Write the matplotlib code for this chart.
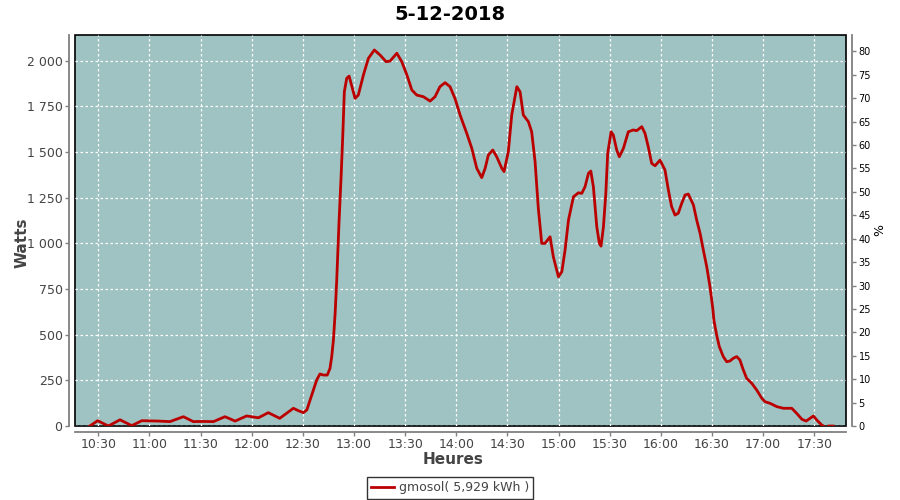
import numpy as np
import matplotlib
matplotlib.use("Agg")
import matplotlib.pyplot as plt
from matplotlib.ticker import FuncFormatter

# production gmosol du 5-12-2018
# temps en minutes apres 10:30, puissance en watts (NaN = trou dans les donnees)
minutes = [-5, -0.4, 5.9, 12.7, 19.6, 25.5, 35.2, 42, 49.9, 55.7, 61, 67.5, 74.3,
           80.2, 87, 93.9, 99.7, 106.4, 114.4, 117.3, 120.3, 122.3, 124.2, 126.1,
           128.1, 130, 132, 134.3, 135.9, 136.9, 137.9, 138.9, 139.8, 141.2, 142.4,
           143.4, 144.3, 145.7, 147.1, 150.6, 152.5, 155.5, 158.4, 161.9, 165.3,
           168.8, 171.1, 175.1, 178, 181, 183.9, 186.8, 190.7, 194.6, 197.5, 200.4,
           203.4, 206.3, 209.2, 212.2, 216.1, 219.1, 222, 224.9, 226.9, 228.8,
           231.4, 233.7, 236.7, 238, 240.5, 242.5, 245.5, 247.4, 249.3, 252.3,
           254.2, 256.2, 258.1, 260.1, 262, 265, 266.9, 269.9, 271.9, 273.8, 275.8,
           278.7, 281.6, 283.6, 285.5, 287.5, 288.9, 290.4, 292.4, 293.9, 294.9,
           296.3, 297.7, 298.8, 300.8, 302.1, 304.1, 305.6, 308, 310.9, 313.8,
           315.8, 318.8, 320.7, 322.6, 324.6, 326.6, 329.5, 332.4, 334.4, 336.3,
           338.3, 340.2, 342.2, 344.2, 346.1, 349.1, 351, 353, 354.9, 356.9, 358.8,
           360.5, 361.1, 362.7, 364.3, 366.6, 368.6, 370.5, 372.5, 374.5, 376.4,
           378, 380.3, 383.3, 386.2, 389.2, 391.1, 394.1, 398, 401.9, 406.8, 409.7,
           412.7, 415.2, 417.5, 419.5, 421.4, 424.4, 425.4, 427, 428.5, 431]
watts = [0, 29, 0, 34, 2, 29, 27, 24, 51, 24, 25, 24, 51,
         27, 55, 45, 73, 42, 97, 84, 73, 88, 142, 197,
         252, 285, 279, 279, 316, 380, 471, 617, 790, 1119, 1365,
         1593, 1830, 1904, 1916, 1794, 1812, 1922, 2013, 2059, 2031,
         1995, 1998, 2041, 1995, 1922, 1840, 1812, 1803, 1779, 1803, 1858,
         1880, 1858, 1794, 1703, 1603, 1520, 1411, 1360, 1411, 1484,
         1511, 1474, 1411, 1393, 1502, 1703, 1858, 1830, 1703, 1666,
         1611, 1447, 1192, 1000, 1000, 1036, 927, 817, 845, 964, 1128,
         1255, 1277, 1274, 1310, 1383, 1396, 1310, 1091, 1000, 985,
         1091, 1274, 1493, 1611, 1593, 1511, 1474, 1520, 1611, 1621,
         1617, 1639, 1602, 1529, 1438, 1425, 1456, 1402, 1292, 1201,
         1155, 1165, 1219, 1265, 1270, 1210, 1128, 1055, 964, 872, 763,
         640, 580, 498, 434, 380, 352, 356, 371, 380, 361,
         316, 261, 234, 197, 152, 133, 124, 106, 97, 97, 69,
         37, 27, 42, 55, 33, 5, 0, np.nan, 0, 0]

tick_labels = ["10:30", "11:00", "11:30", "12:00", "12:30", "13:00", "13:30",
               "14:00", "14:30", "15:00", "15:30", "16:00", "16:30", "17:00", "17:30"]
watt_ticks = [0, 250, 500, 750, 1000, 1250, 1500, 1750, 2000]
pct_ticks = list(range(0, 85, 5))

t = 630 + np.array(minutes)  # minutes depuis minuit
tick_pos = np.arange(630, 630 + 30 * len(tick_labels), 30)

gray = "#444444"
axis_gray = "#808080"

fig = plt.figure(figsize=(9, 5), dpi=100)
ax = fig.add_axes([75 / 900, 1 - 426 / 500, (846 - 75) / 900, (426 - 35) / 500])
ax.set_facecolor("#9ec3c2")
ax.patch.set_edgecolor("black")
ax.patch.set_linewidth(1.2)

ax.plot(t, watts, color="#bb0000", lw=2, label="gmosol( 5,929 kWh )", zorder=3)

ax.set_xlim(630 - 13.7, 630 + 420 + 18.6)
ax.set_ylim(0, 2141)
ax.set_xticks(tick_pos)
ax.set_xticklabels(tick_labels)
ax.set_yticks(watt_ticks)
ax.yaxis.set_major_formatter(FuncFormatter(lambda v, p: f"{int(v):,}".replace(",", " ")))
ax.grid(True, color="white", linestyle=(0, (2, 2)), lw=0.9)

for s in ["top", "right"]:
    ax.spines[s].set_visible(False)
for s in ["left", "bottom"]:
    ax.spines[s].set_position(("outward", 4))
    ax.spines[s].set_color(axis_gray)
    ax.spines[s].set_linewidth(1.3)
ax.tick_params(colors=axis_gray, labelcolor=gray, labelsize=9, length=3, width=1, pad=2)

ax2 = ax.twinx()
ax2.set_ylim(0, 2141 / 2000 * 78.0)
ax2.set_yticks(pct_ticks)
for s in ["top", "left", "bottom"]:
    ax2.spines[s].set_visible(False)
ax2.spines["right"].set_position(("outward", 4))
ax2.spines["right"].set_color(axis_gray)
ax2.spines["right"].set_linewidth(1.3)
ax2.tick_params(colors=axis_gray, labelcolor="black", labelsize=7, length=3, width=1, pad=2)

# titres des axes places comme sur l'original
fig.text(453 / 900, 1 - 460 / 500, "Heures", fontsize=11, fontweight="bold",
         color=gray, ha="center", va="center")
fig.text(22 / 900, 1 - 243 / 500, "Watts", fontsize=11, fontweight="bold",
         color=gray, ha="center", va="center", rotation=90)
fig.text(880 / 900, 1 - 230 / 500, "%", fontsize=9, color="black",
         ha="center", va="center", rotation=90)

fig.suptitle("5-12-2018", fontsize=14, fontweight="bold", y=0.972, va="center", x=0.5)

leg = ax.legend(loc="center", bbox_to_anchor=(450 / 900, 1 - 488 / 500),
                bbox_transform=fig.transFigure, frameon=True, fancybox=False,
                fontsize=9, handlelength=1.8, borderpad=0.35, handletextpad=0.4)
leg.get_frame().set_edgecolor("black")
leg.get_frame().set_linewidth(1)
for txt in leg.get_texts():
    txt.set_color(gray)

fig.savefig("out.png", dpi=100, facecolor="white")
